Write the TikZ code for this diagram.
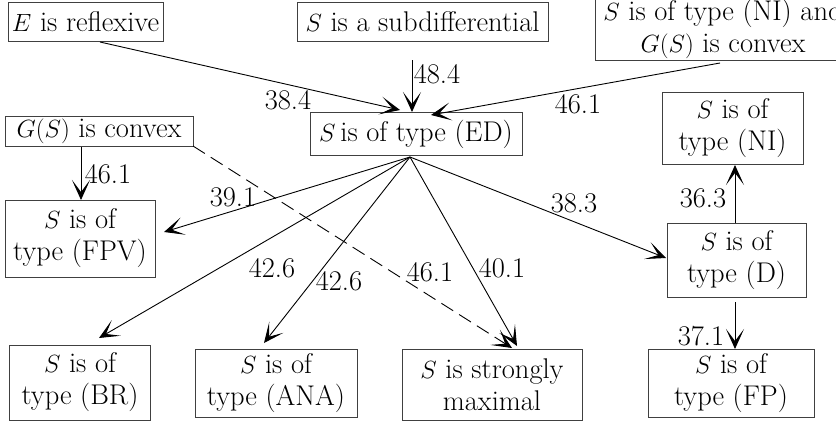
\documentclass[tikz,border=0pt]{standalone}
\usetikzlibrary{arrows.meta}
\begin{document}
\begin{tikzpicture}[x=1pt,y=-1pt,
  font=\fontsize{28.5}{32}\selectfont,
  box/.style={draw=black!75,line width=1pt,inner sep=0pt,align=center},
  lab/.style={inner sep=0pt},
  arr/.style={line width=0.9pt,-{Stealth[length=20pt,width=18pt,inset=12pt]}},
]
\useasboundingbox (0,0) rectangle (836,423);
% nodes
\node[box,minimum width=155,minimum height=39] (refl) at (85.5,21.5) {$E$ is reflexive};
\node[box,minimum width=251,minimum height=39] (subd) at (422.5,21.5) {$S$ is a subdifferential};
\node[box,minimum width=256,minimum height=62] (nic) at (723,29) {$S$ is of type (NI) and\\$G(S)$ is convex};
\node[box,minimum width=188,minimum height=30] (gsc) at (99,131) {$G(S)$ is convex};
\node[box,minimum width=212,minimum height=43] (ed) at (416,134) {$S$\,is of type (ED)};
\node[box,minimum width=141,minimum height=72] (ni) at (732.5,128) {$S$ is of\\type (NI)};
\node[box,minimum width=150,minimum height=77] (fpv) at (80,238.5) {$S$ is of\\type (FPV)};
\node[box,minimum width=139,minimum height=74] (d) at (736.5,260) {$S$ is of\\type (D)};
\node[box,minimum width=141,minimum height=75] (br) at (80,382.5) {$S$ is of\\type (BR)};
\node[box,minimum width=162,minimum height=68] (ana) at (276,383) {$S$ is of\\type (ANA)};
\node[box,minimum width=180,minimum height=71] (sm) at (492,384.5) {$S$ is strongly\\maximal};
\node[box,minimum width=166,minimum height=68] (fp) at (731,383) {$S$ is of\\type (FP)};
% anchor points
\coordinate (edo) at (410,157);
\coordinate (reflo) at (100,42);
\coordinate (edin1) at (400,110);
\coordinate (subdo) at (412,60);
\coordinate (edin2) at (412,112);
\coordinate (nico) at (720,63);
\coordinate (edin3) at (431,115);
\coordinate (gsco) at (81,147);
\coordinate (fpvin) at (81,200);
\coordinate (gscd) at (193,146);
\coordinate (smin1) at (512,348);
\coordinate (smin2) at (517,346);
\coordinate (fpvin2) at (164,232);
\coordinate (brin) at (99,338);
\coordinate (anain) at (264,343);
\coordinate (din) at (666,258);
\coordinate (do) at (735,223);
\coordinate (niin) at (735,165);
\coordinate (do2) at (735,302);
\coordinate (fpin) at (735,349);
% connectors
\draw[arr] (reflo) -- (edin1);
\draw[arr] (subdo) -- (edin2);
\draw[arr] (nico) -- (edin3);
\draw[arr] (gsco) -- (fpvin);
\draw[arr,dash pattern=on 14pt off 7pt] (gscd) -- (smin1);
\draw[arr] (edo) -- (fpvin2);
\draw[arr] (edo) -- (brin);
\draw[arr] (edo) -- (anain);
\draw[arr] (edo) -- (smin2);
\draw[arr] (edo) -- (din);
\draw[arr] (do) -- (niin);
\draw[arr] (do2) -- (fpin);
% labels
\node[lab] (l1) at (288,100) {38.4};
\node[lab] (l2) at (437,74) {48.4};
\node[lab] (l3) at (578,104) {46.1};
\node[lab] (l4) at (108,174) {46.1};
\node[lab] (l5) at (233,197) {39.1};
\node[lab] (l6) at (272,268) {42.6};
\node[lab] (l7) at (339,281) {42.6};
\node[lab] (l8) at (430,272) {46.1};
\node[lab] (l9) at (502,268) {40.1};
\node[lab] (l10) at (574,203) {38.3};
\node[lab] (l11) at (703,198) {36.3};
\node[lab] (l12) at (701,336) {37.1};
\end{tikzpicture}
\end{document}
